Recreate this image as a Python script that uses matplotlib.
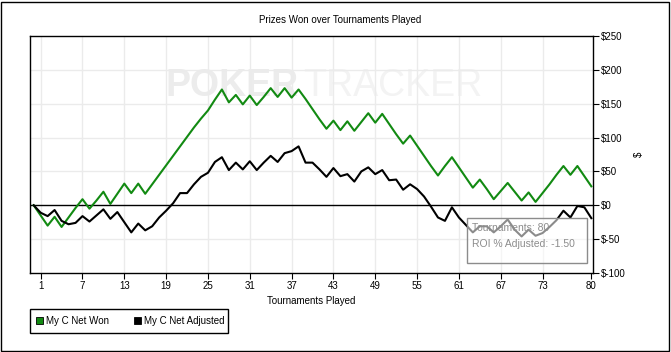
import matplotlib
matplotlib.use("Agg")
import matplotlib.pyplot as plt
from matplotlib.patches import Patch, Rectangle

# ── données ──────────────────────────────────────────────────────────────────
tournaments = list(range(0, 81))

net_won = [
    0, -15, -30, -17, -32, -18, -4, 9, -5, 7,
    20, 2, 17, 32, 18, 32, 17, 31, 45, 59,
    73, 87, 101, 115, 128, 140, 156, 171, 152, 163,
    149, 162, 148, 160, 173, 160, 173, 159, 171, 157,
    142, 127, 113, 125, 111, 124, 110, 123, 136, 122,
    135, 120, 105, 91, 103, 88, 73, 58, 44, 58,
    71, 56, 41, 26, 38, 24, 9, 21, 33, 20,
    7, 19, 5, 18, 31, 45, 58, 45, 58, 43,
    28,
]

net_adjusted = [
    0, -11, -16, -7, -23, -28, -26, -16, -24, -15,
    -6, -20, -10, -25, -40, -27, -37, -31, -18, -8,
    3, 18, 18, 31, 42, 48, 64, 71, 52, 63,
    53, 65, 52, 63, 73, 64, 77, 80, 87, 63,
    63, 53, 42, 55, 43, 46, 35, 50, 56, 46,
    52, 37, 38, 23, 31, 24, 13, -2, -18, -23,
    -3, -18, -29, -40, -31, -31, -40, -31, -21, -36,
    -46, -36, -45, -41, -32, -22, -8, -18, -1, -3,
    -19,
]

x_ticks = [1, 7, 13, 19, 25, 31, 37, 43, 49, 55, 61, 67, 73, 80]
y_ticks = [-100, -50, 0, 50, 100, 150, 200, 250]

series_labels = ["My C Net Won", "My C Net Adjusted"]
tooltip_lines = ["Tournaments: 80", "ROI % Adjusted: -1.50"]

GREEN = "#128a12"
GRID = "#ebebeb"
W, H = 671, 352

plt.rcParams["font.family"] = ["Liberation Sans", "DejaVu Sans"]
plt.rcParams["font.size"] = 7

fig = plt.figure(figsize=(W / 100, H / 100), dpi=100)
ax = fig.add_axes([30 / W, 1 - 273 / H, 563 / W, 237 / H])

# filigrane (très pâle)
ax.text((165 - 30) / 563, 0.79, "POKER", transform=ax.transAxes,
        fontsize=27, fontweight="bold", color="#ececec", va="center",
        zorder=0)
ax.text((303 - 30) / 563, 0.79, "TRACKER", transform=ax.transAxes,
        fontsize=27, color="#f3f3f3", va="center", zorder=0)

ax.plot(tournaments, net_won, color=GREEN, linewidth=1.5, zorder=3)
ax.plot(tournaments, net_adjusted, color="black", linewidth=1.5, zorder=3)
ax.axhline(0, color="black", linewidth=1, zorder=2)

ax.set_xlim(-0.53, 80.24)
ax.set_ylim(-100, 250)
ax.set_xticks(x_ticks)
ax.set_yticks(y_ticks)
ax.set_yticklabels([f"${v}" for v in y_ticks])
ax.yaxis.tick_right()
ax.yaxis.set_label_position("right")
ax.tick_params(axis="both", direction="out", length=4, width=0.8, pad=2,
               labelsize=7)

# grille claire, sans la graduation 80
for t in x_ticks[:-1]:
    ax.axvline(t, color=GRID, linewidth=1, zorder=1)
for v in y_ticks[1:-1]:
    if v != 0:
        ax.axhline(v, color=GRID, linewidth=1, zorder=1)

for s in ax.spines.values():
    s.set_linewidth(1)

ax.set_xlabel("Tournaments Played", fontsize=7, labelpad=3)
ax.set_ylabel("$", fontsize=7, labelpad=6, rotation=90)
fig.text(340 / W, 1 - 20 / H, "Prizes Won over Tournaments Played",
         ha="center", va="center", fontsize=7)

# infobulle
ax.add_patch(Rectangle((467 / W, 1 - 263 / H), 120 / W, 45 / H,
                       transform=fig.transFigure, facecolor="white",
                       alpha=0.55, edgecolor="none", zorder=5))
ax.add_patch(Rectangle((467 / W, 1 - 263 / H), 120 / W, 45 / H,
                       transform=fig.transFigure, facecolor="none",
                       edgecolor="#8c8c8c", linewidth=1, zorder=6))
fig.text(472 / W, 1 - 228 / H, tooltip_lines[0], color="#8c8c8c",
         fontsize=7.5, va="center")
fig.text(472 / W, 1 - 244 / H, tooltip_lines[1], color="#8c8c8c",
         fontsize=7.5, va="center")

# légende
fig.patches.append(Rectangle((30 / W, 1 - 333 / H), 198 / W, 24 / H,
                             transform=fig.transFigure, facecolor="white",
                             edgecolor="black", linewidth=1))
handles = [Patch(facecolor=GREEN, edgecolor="black", linewidth=0.6),
           Patch(facecolor="black", edgecolor="black", linewidth=0.6)]
fig.legend(handles, series_labels, loc="center left",
           bbox_to_anchor=(36 / W, 1 - 321 / H), ncol=2, frameon=False,
           fontsize=7, handlelength=0.7, handleheight=0.7,
           handletextpad=0.3, columnspacing=2.6, borderpad=0, borderaxespad=0)

# cadre extérieur
fig.patches.append(Rectangle((1 / W, 1 / H), 668 / W, 349 / H,
                             transform=fig.transFigure, facecolor="none",
                             edgecolor="black", linewidth=1))

fig.savefig("out.png", dpi=100)
